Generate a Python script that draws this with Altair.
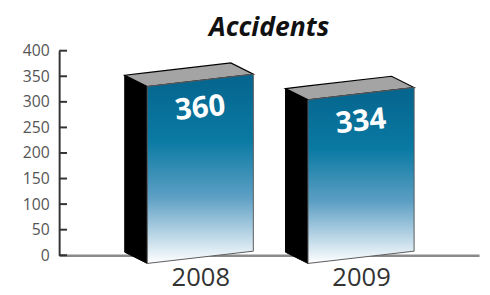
import json
import altair as alt
import pandas as pd

years = ["2008", "2009"]
accidents = [360, 334]
y_ticks = [0, 50, 100, 150, 200, 250, 300, 350, 400]
title_text = "Accidents"

# 3D box styling constants (in scale units)
HALF = 0.33
DEPTH_X = 0.14
DEPTH_Y = 22
TILT = 12
TOP_DROP = 18
BOTTOM = -4
LABEL_DROP = 73

front_rows, side_rows, top_rows, label_rows = [], [], [], []
slope = (2 * TILT) / (2 * HALF)
for i, (yr, v) in enumerate(zip(years, accidents)):
    c = i
    fl_top = v - TOP_DROP - TILT
    fr_top = v - TOP_DROP + TILT
    fl_bot = BOTTOM - TILT
    fr_bot = BOTTOM + TILT
    front_rows += [dict(bar=yr, x=c - HALF, y=fl_top, y2=fl_bot),
                   dict(bar=yr, x=c + HALF, y=fr_top, y2=fr_bot)]
    side_rows += [dict(bar=yr, x=c - HALF - DEPTH_X, y=fl_top + DEPTH_Y, y2=fl_bot + DEPTH_Y),
                  dict(bar=yr, x=c - HALF, y=fl_top, y2=fl_bot)]
    bl = fl_top + DEPTH_Y
    br = fr_top + DEPTH_Y
    top_rows += [
        dict(bar=yr, x=c - HALF - DEPTH_X, y=bl, y2=bl),
        dict(bar=yr, x=c - HALF, y=bl + slope * DEPTH_X, y2=fl_top),
        dict(bar=yr, x=c + HALF - DEPTH_X, y=br, y2=fr_top - slope * DEPTH_X),
        dict(bar=yr, x=c + HALF, y=fr_top, y2=fr_top),
    ]
    label_rows.append(dict(bar=yr, x=c, y=v - LABEL_DROP, label=str(v)))

FONT = "Open Sans"
xscale = alt.Scale(domain=[-0.878, 1.734], nice=False, zero=False)
yscale = alt.Scale(domain=[0, 400], nice=False, zero=False)

label_expr = json.dumps(years) + "[datum.value]"

x_axis = alt.Axis(values=list(range(len(years))), labelExpr=label_expr, ticks=False, tickSize=0,
                  grid=False, domainColor="#8a8a8a", domainWidth=2.5, labelFont=FONT,
                  labelFontSize=26, labelColor="#333333", labelPadding=10, labelFlush=False,
                  title=None, zindex=0)
y_axis = alt.Axis(values=y_ticks, ticks=False, tickSize=0, grid=False, domainColor="#333333",
                  domainWidth=2, labelFont=FONT, labelFontSize=16, labelColor="#555555",
                  labelPadding=10, title=None, zindex=0)

X = alt.X("x:Q", scale=xscale, axis=x_axis, title=None)
Y = alt.Y("y:Q", scale=yscale, axis=y_axis, title=None)

gradient = alt.Gradient(gradient="linear", x1=0, y1=0, x2=0, y2=1, stops=[
    alt.GradientStop(color="#05648d", offset=0),
    alt.GradientStop(color="#0a7aa3", offset=0.35),
    alt.GradientStop(color="#5d9fc4", offset=0.65),
    alt.GradientStop(color="#ffffff", offset=1),
])

side = alt.Chart(pd.DataFrame(side_rows)).mark_area(
    color="#000000", stroke="#000000", strokeWidth=1, orient="vertical").encode(
    x=X, y=Y, y2="y2:Q", detail="bar:N")
top = alt.Chart(pd.DataFrame(top_rows)).mark_area(
    color="#a4a4a4", stroke="#000000", strokeWidth=1.2, orient="vertical").encode(
    x=X, y=Y, y2="y2:Q", detail="bar:N")
front = alt.Chart(pd.DataFrame(front_rows)).mark_area(
    color=gradient, stroke="#5a5a5a", strokeWidth=1, orient="vertical").encode(
    x=X, y=Y, y2="y2:Q", detail="bar:N")
labels = alt.Chart(pd.DataFrame(label_rows)).mark_text(
    font=FONT, fontSize=30, fontWeight="bold", color="white", angle=354,
    align="center", baseline="middle").encode(
    x=X, y=Y, text="label:N")
ticks = alt.Chart(pd.DataFrame({"y": y_ticks})).mark_rule(stroke="#333333", strokeWidth=2).encode(
    y=Y, x=alt.value(0), x2=alt.value(8))

chart = alt.layer(side, top, front, labels, ticks).properties(
    width=427, height=208,
    padding={"left": 52, "top": 41, "right": 3, "bottom": 38},
    autosize=alt.AutoSizeParams(type="none"),
    title=alt.TitleParams(title_text, font=FONT, fontSize=27, fontWeight="bold", fontStyle="italic",
                          color="#111111", anchor="middle", offset=1),
).configure_view(stroke=None)

chart.save("out.html", embed_options={"renderer": "svg", "actions": False})
